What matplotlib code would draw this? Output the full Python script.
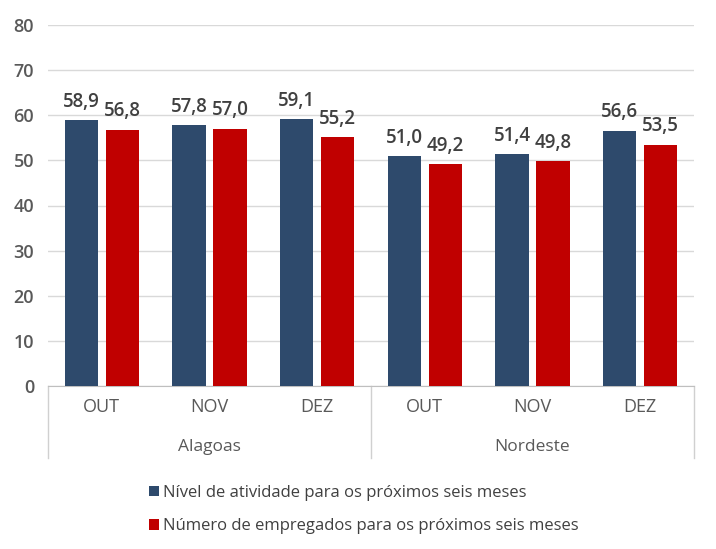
import numpy as np
import matplotlib
matplotlib.use('Agg')
import matplotlib.pyplot as plt
import matplotlib.transforms as mtransforms

plt.rcParams['font.family'] = ['Open Sans', 'DejaVu Sans']

# data
months = ['OUT', 'NOV', 'DEZ', 'OUT', 'NOV', 'DEZ']
groups = ['Alagoas', 'Nordeste']
nivel = [58.9, 57.8, 59.1, 51.0, 51.4, 56.6]
empregados = [56.8, 57.0, 55.2, 49.2, 49.8, 53.5]
series_names = ['Nível de atividade para os próximos seis meses',
                'Número de empregados para os próximos seis meses']

blue = '#2E4A6C'
red = '#C00000'
txt = '#404040'

fig = plt.figure(figsize=(7.16, 5.49), dpi=100)
ax = fig.add_axes([48 / 716, 1 - 386 / 549, 646 / 716, 361 / 549])

x = np.arange(len(months))
w = 0.31
off = 0.19
b1 = ax.bar(x - off, nivel, w, color=blue, label=series_names[0], zorder=3)
b2 = ax.bar(x + off, empregados, w, color=red, label=series_names[1], zorder=3)

# value labels
for bars, vals in ((b1, nivel), (b2, empregados)):
    for r, v in zip(bars, vals):
        ax.annotate(f'{v:.1f}'.replace('.', ','),
                    (r.get_x() + r.get_width() / 2, v),
                    xytext=(0, 6), textcoords='offset points',
                    ha='center', va='bottom', fontsize=13.5, color=txt,
                    fontweight='semibold')

ax.set_xlim(-0.5, 5.5)
ax.set_ylim(0, 80)
ax.set_yticks(range(0, 81, 10))
ax.yaxis.grid(True, color='#D9D9D9', linewidth=1, zorder=0)
ax.tick_params(axis='y', length=0, labelsize=13, labelcolor='#595959', pad=10)
for lab in ax.get_yticklabels():
    lab.set_fontweight('semibold')
for s in ['top', 'right', 'left']:
    ax.spines[s].set_visible(False)
ax.spines['bottom'].set_color('#BFBFBF')

ax.set_xticks(x)
ax.set_xticklabels(months, fontsize=13, color='#595959')
ax.tick_params(axis='x', length=0, pad=9)

# group labels and separators below axis
trans = mtransforms.blended_transform_factory(ax.transData, ax.transAxes)
for i, g in enumerate(groups):
    ax.text(1 + 3 * i, -0.168, g, transform=trans, ha='center', va='center',
            fontsize=12.5, color='#595959')
for xs in [-0.5, 2.5, 5.5]:
    ax.plot([xs, xs], [0, -0.2], transform=trans, color='#D0D0D0',
            linewidth=1, clip_on=False)

fig.legend(handles=[b1, b2], labels=series_names, loc='upper left',
           bbox_to_anchor=(134 / 716, 1 - 470 / 549), frameon=False,
           fontsize=12, labelcolor=txt, handlelength=0.6, handleheight=0.6,
           handletextpad=0.25, labelspacing=1.05)

fig.savefig('out.png', dpi=100)
